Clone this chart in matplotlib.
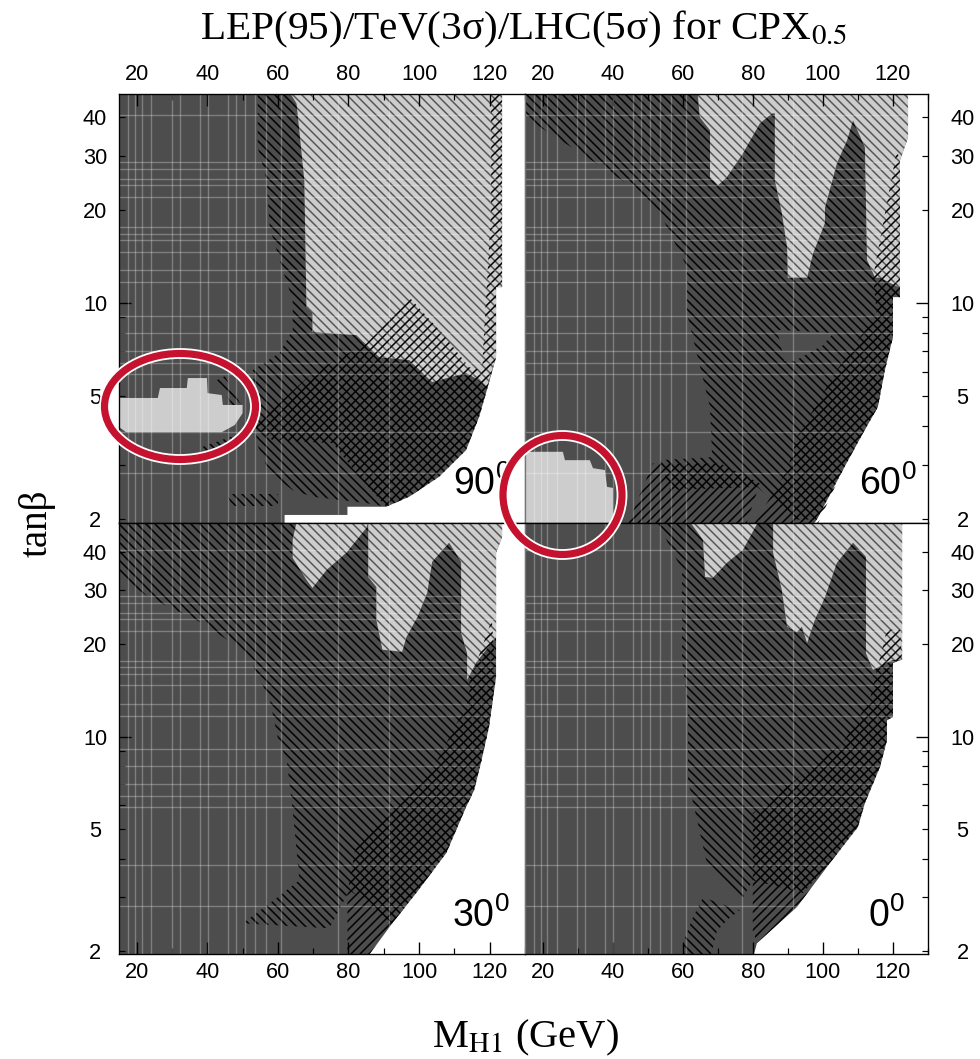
import matplotlib
matplotlib.use("Agg")
import matplotlib.pyplot as plt
from matplotlib.patches import Ellipse

W, H = 980, 1059
DPI = 108

# M_H1 (GeV) and tan(beta) outlines
fill90_x = [15, 123.5, 123.5, 121.8, 121.8, 119.2, 117, 113.3, 105.7, 97.2, 90.7, 79.7, 79.7, 61.9, 61.9, 15]
fill90_y = [50, 50, 11.27, 11.27, 6.69, 5.23, 4.28, 3.34, 2.74, 2.36, 2.19, 2.19, 2.06, 2.06, 1.9, 1.9]
light90_x = [62.5, 65.3, 67.5, 68.1, 69.8, 69.8, 82.2, 88.7, 97.2, 103.7, 113.3, 117, 119.2, 121.8, 121.8, 123.5, 123.5]
light90_y = [50, 44.3, 25, 9.7, 9.28, 8.06, 7.88, 6.69, 6.54, 5.55, 5.94, 5.63, 5.35, 6.69, 11.27, 11.27, 50]
back90_x = [54.3, 54.3, 56.8, 57.7, 60.5, 64.2, 64.2, 60.5, 52.9, 54, 57.7, 64.2, 69.8, 85.1, 90.7, 97.2, 105.7, 113.3, 117, 119.2, 121.8, 121.8, 123.5, 123.5]
back90_y = [50, 32, 25, 17.6, 13.8, 10.2, 8.2, 6.9, 6.07, 3.52, 2.81, 2.48, 2.36, 2.25, 2.19, 2.36, 2.74, 3.34, 4.28, 5.23, 6.69, 11.27, 11.27, 50]
fwd90_x = [97.2, 85.1, 69.8, 52.9, 58.5, 75.5, 83.1, 90.7, 97.2, 105.7, 113.3, 117, 119.2, 121.8, 121.8, 123.5, 123.5, 120.4, 120.4, 117.8, 114.2, 106.5]
fwd90_y = [10.46, 7.42, 5.94, 3.97, 3.6, 3.52, 2.74, 2.19, 2.36, 2.74, 3.34, 4.28, 5.23, 6.69, 11.27, 11.27, 50, 50, 20, 6.07, 6.2, 8]
spot90_x = [15, 26, 26.6, 34.2, 34.5, 39.9, 40.1, 44.1, 44.4, 50, 50, 47.8, 44.1, 17, 15]
spot90_y = [4.93, 4.93, 5.31, 5.31, 5.72, 5.72, 5.11, 5.04, 4.68, 4.68, 4.4, 4.03, 3.82, 3.82, 3.97]
bit90a_x = [42.7, 45, 49.5, 47.5]
bit90a_y = [5.63, 5.8, 4.7, 4.6]
bit90b_x = [37.9, 47, 48, 38]
bit90b_y = [3.4, 3.7, 3.4, 3.2]
bit90c_x = [45.5, 60, 60, 47]
bit90c_y = [2.4, 2.4, 2.2, 2.2]

fill60_x = [15, 124.3, 124.3, 122, 122, 120, 120, 117.7, 115.7, 111.5, 105.7, 98.3, 97, 15]
fill60_y = [50, 50, 34.5, 29, 10.46, 10.46, 7.76, 6.07, 4.61, 3.8, 2.88, 1.99, 1.9, 1.9]
light60_x = [64.1, 64.9, 67.8, 67.8, 70.1, 72.6, 77.2, 82, 85.5, 86.3, 86.3, 88.3, 89.8, 90, 95.5, 97.2, 100.6, 100.6, 104, 106.9, 108.6, 112, 112.6, 114.9, 116.3, 122, 122, 124.3, 124.3]
light60_y = [50, 40, 36.3, 25.6, 24.1, 25.6, 30.6, 38.2, 41.2, 41.2, 25, 19.6, 15.2, 12.1, 12.1, 14.5, 18.2, 20.4, 28.4, 33.7, 39.1, 32, 13.8, 12.1, 12.1, 11.2, 29, 34.5, 50]
back60_x = [15, 15, 32.7, 45.8, 53.5, 61.2, 61.2, 67.8, 68.4, 53.5, 56.4, 81.2, 92.6, 98.3, 105.7, 111.5, 115.7, 117.7, 120, 120, 122, 122, 124.3, 124.3]
back60_y = [50, 40, 29.7, 23.7, 19.6, 13.1, 9.28, 4.61, 3.17, 3.1, 2.48, 2.54, 1.99, 1.99, 2.88, 3.8, 4.61, 6.07, 7.76, 10.46, 10.46, 29, 34.5, 50]
gap60_x = [86.9, 103, 100, 92, 89]
gap60_y = [8.2, 8.0, 7.3, 6.5, 6.5]
fwd60_x = [121.1, 114.3, 115.4, 104, 92.6, 89.8, 80, 98.3, 105.7, 111.5, 115.7, 117.7, 120, 120, 122, 122]
fwd60_y = [31.3, 12.1, 9.28, 6.07, 3.68, 2.88, 1.9, 1.9, 2.88, 3.8, 4.61, 6.07, 7.76, 10.46, 10.46, 29]
band60_x = [44.1, 51.5, 70.6, 82, 78]
band60_y = [1.9, 3.03, 3.03, 2.61, 1.9]
spot60_x = [15, 25.8, 26.4, 33.5, 34.4, 37.8, 38.4, 40.1, 40.1, 15]
spot60_y = [3.3, 3.3, 3.1, 3.1, 2.92, 2.88, 2.54, 2.52, 1.9, 1.9]

fill30_x = [15, 123.5, 123.5, 121.8, 121.8, 119.8, 117.5, 115.6, 113.3, 107.7, 99.2, 92.4, 85.1, 15]
fill30_y = [50, 50, 44.7, 39.7, 15.65, 10.75, 8.21, 6.7, 5.9, 4.18, 3.1, 2.47, 1.9, 1.9]
light30_x = [65.3, 64.2, 64.2, 68.1, 69.8, 73.8, 79.4, 85.1, 85.6, 85.6, 87.9, 87.9, 89.6, 95.2, 96.4, 99.5, 102.3, 103.7, 108.5, 111.9, 111.9, 113.6, 113.6, 116.1, 121.8, 121.8, 123.5, 123.5]
light30_y = [50, 43.7, 38.2, 32.4, 30.5, 34.9, 39.7, 47.9, 50, 33.1, 30.7, 24, 19.2, 18.9, 21.1, 24.5, 29.4, 37.1, 42.8, 37.1, 21.8, 18.7, 15.3, 17.4, 21.1, 39.7, 44.7, 50]
back30_x = [15, 15, 23.8, 38.7, 51.2, 57.7, 59.9, 62.5, 64.2, 66.1, 57.7, 50, 74.6, 78.3, 80.3, 92.4, 99.2, 107.7, 113.3, 115.6, 117.5, 119.8, 121.8, 121.8, 123.5, 123.5]
back30_y = [50, 33.1, 28.3, 23.4, 18.7, 13.2, 10, 8.4, 5.77, 3.41, 2.87, 2.47, 2.38, 2.87, 3.17, 2.47, 3.1, 4.18, 5.9, 6.7, 8.21, 10.75, 15.65, 39.7, 44.7, 50]
fwd30_x = [79.7, 79.7, 82.2, 103.7, 114.2, 114.2, 120.6, 121.8, 119.8, 117.5, 115.6, 113.3, 107.7, 99.2, 92.4, 85.1]
fwd30_y = [1.9, 3.1, 4.5, 7.79, 13.2, 15, 24, 15.65, 10.75, 8.21, 6.7, 5.9, 4.18, 3.1, 2.47, 1.9]

fill0_x = [15, 122.6, 122.6, 120, 120, 118.3, 118.3, 116.3, 112, 110, 102, 92.6, 81.2, 80, 15]
fill0_y = [50, 50, 17.8, 17.4, 11.6, 11.3, 9.75, 7.97, 6.08, 5.08, 3.88, 2.79, 2.13, 1.9, 1.9]
light0_x = [62.1, 65.8, 66.4, 68.6, 72.6, 77.2, 81.5, 85.8, 85.8, 88.3, 89.8, 92.6, 94, 95.5, 97.7, 100.6, 104, 108.6, 112.3, 112.3, 114.3, 120, 122.6, 122.6]
light0_y = [50, 43.7, 33.1, 32.9, 36.8, 40.6, 50, 50, 39.7, 30, 22.8, 21.9, 22.8, 20.2, 24, 28.5, 36.8, 42.8, 38.5, 18.7, 16.5, 17.8, 17.8, 50]
back0_x = [52.7, 59.8, 59.8, 61.5, 61.5, 64.1, 66.9, 77.2, 80, 94.3, 102, 110, 112, 116.3, 118.3, 118.3, 120, 120, 122.6, 122.6]
back0_y = [50, 34.9, 17.8, 12.5, 7.23, 5.36, 3.88, 3.0, 3.41, 3.1, 3.88, 5.08, 6.08, 7.97, 9.75, 11.3, 11.6, 17.4, 17.8, 50]
bit0_x = [60.1, 60.1, 62.9, 65.8, 76.3, 73.5, 69.8, 67.8]
bit0_y = [1.9, 2.13, 2.58, 3.0, 2.72, 2.58, 2.34, 1.9]
fwd0_x = [80, 80, 105.7, 113.4, 115.4, 118.3, 122, 122.6, 120, 120, 118.3, 118.3, 116.3, 112, 110, 102, 92.6, 81.2, 80]
fwd0_y = [2.34, 5.64, 9.54, 13.2, 16.5, 22.3, 22.3, 17.8, 17.4, 11.6, 11.3, 9.75, 7.97, 6.08, 5.08, 3.88, 2.79, 2.13, 2.34]

# faint lines of the scan grid
grid_x = [17.6, 19.5, 21.4, 24.2, 29.9, 32.2, 37.9, 40.2, 45.8, 48.2, 50.6, 53.4, 56.7, 61, 76.9, 91.5]
grid_y = [40.6, 28.7, 27.3, 25.3, 24.1, 22.1, 17.7, 16.8, 16, 14.7, 12.8, 11.7, 9.1, 8, 7, 6.4, 5.9, 3.83, 2.82]

x_major = [20, 40, 60, 80, 100, 120]
x_minor = [30, 50, 70, 90, 110, 130]
y_minor = [2, 3, 4, 5, 6, 7, 8, 9, 20, 30, 40]
y_minor_labels = ["2", "", "", "5", "", "", "", "", "20", "30", "40"]

DARK = "#4d4d4d"
LIGHT = "#cdcdcd"
HATCH_DARK = "#000000"
HATCH_LIGHT = "#555555"
BACK = "\\" * 4
FWD = "/" * 4

plt.rcParams["hatch.linewidth"] = 1.0
plt.rcParams["font.family"] = "Liberation Sans"

panels = [
    dict(box=(119, 525, 94, 523), ylim=(1.94, 47.6), angle="90", pos=(126, 2.6),
         fill=(fill90_x, fill90_y), light=(light90_x, light90_y), back=[(back90_x, back90_y), (bit90a_x, bit90a_y), (bit90b_x, bit90b_y), (bit90c_x, bit90c_y)],
         gap=None, fwd=[(fwd90_x, fwd90_y)], spot=(spot90_x, spot90_y)),
    dict(box=(525, 928, 94, 523), ylim=(1.94, 47.6), angle="60", pos=(126.8, 2.6),
         fill=(fill60_x, fill60_y), light=(light60_x, light60_y), back=[(back60_x, back60_y)],
         gap=(gap60_x, gap60_y), fwd=[(fwd60_x, fwd60_y), (band60_x, band60_y)], spot=(spot60_x, spot60_y)),
    dict(box=(119, 525, 523, 953.5), ylim=(1.97, 49.6), angle="30", pos=(125.5, 2.6),
         fill=(fill30_x, fill30_y), light=(light30_x, light30_y), back=[(back30_x, back30_y)],
         gap=None, fwd=[(fwd30_x, fwd30_y)], spot=None),
    dict(box=(525, 928, 523, 953.5), ylim=(1.97, 49.6), angle="0", pos=(123.4, 2.6),
         fill=(fill0_x, fill0_y), light=(light0_x, light0_y), back=[(back0_x, back0_y), (bit0_x, bit0_y)],
         gap=None, fwd=[(fwd0_x, fwd0_y)], spot=None),
]

fig = plt.figure(figsize=(W / DPI, H / DPI), dpi=DPI)

for i, p in enumerate(panels):
    x0, x1, y0, y1 = p["box"]
    ax = fig.add_axes([x0 / W, 1 - y1 / H, (x1 - x0) / W, (y1 - y0) / H])
    ax.set_yscale("log")

    outer = ax.fill(*p["fill"], facecolor=DARK, linewidth=0, zorder=1)[0]
    for bx, by in p["back"]:
        ax.fill(bx, by, facecolor="none", edgecolor=HATCH_DARK, hatch=BACK, linewidth=0, zorder=1.2)
    if p["gap"] is not None:
        ax.fill(*p["gap"], facecolor=DARK, linewidth=0, zorder=1.3)
    ax.fill(*p["light"], facecolor=LIGHT, edgecolor=HATCH_LIGHT, hatch=BACK, linewidth=0, zorder=1.4)
    for fx, fy in p["fwd"]:
        ax.fill(fx, fy, facecolor="none", edgecolor=HATCH_DARK, hatch=FWD, linewidth=0, zorder=1.5)
    if p["spot"] is not None:
        ax.fill(*p["spot"], facecolor=LIGHT, linewidth=0, zorder=1.6)

    v = ax.vlines(grid_x, 1.9, 50, color="white", alpha=0.28, linewidth=0.9, zorder=1.7)
    h = ax.hlines(grid_y, 15, 130, color="white", alpha=0.28, linewidth=0.9, zorder=1.7)
    v.set_clip_path(outer)
    h.set_clip_path(outer)

    ax.set_ylim(*p["ylim"])
    ax.set_xlim(15, 130)

    # ticks
    ax.set_xticks(x_major)
    ax.set_xticks(x_minor, minor=True)
    ax.set_yticks([10], labels=["10"])
    ax.set_yticks(y_minor, labels=y_minor_labels, minor=True)
    is_top = i < 2
    is_left = i % 2 == 0
    ax.tick_params(axis="x", which="both", direction="in", top=is_top, bottom=not is_top,
                   labeltop=is_top, labelbottom=not is_top)
    ax.tick_params(axis="y", which="both", direction="in", left=is_left, right=not is_left,
                   labelleft=is_left, labelright=not is_left)
    ax.tick_params(axis="x", which="major", length=8, width=0.9, labelsize=14.5, pad=6)
    ax.tick_params(axis="x", which="minor", length=4, width=0.8)
    ypad = 16 if is_left else 23
    ax.tick_params(axis="y", which="major", length=8, width=0.9, labelsize=14.5, pad=ypad)
    ax.tick_params(axis="y", which="minor", length=4, width=0.8, labelsize=14.5, pad=ypad)
    for lab in ax.get_yticklabels(which="both"):
        lab.set_ha("center")
    for s in ax.spines.values():
        s.set_linewidth(0.9)
        s.set_zorder(3)
    ax.spines["left" if not is_left else "right"].set_color("#777777")

    ax.text(p["pos"][0], p["pos"][1], r"$\mathdefault{" + p["angle"] + "^{0}}$", fontsize=25, ha="right", va="center",
            zorder=4)

SERIF = "Liberation Serif"
fig.text(524 / W, 1 - 39 / H, r"LEP(95)/TeV(3σ)/LHC(5σ) for CPX$_{\mathrm{0.5}}$", family=SERIF,
         fontsize=27.5, ha="center", va="baseline", math_fontfamily="stix")
fig.text(525 / W, 1 - 1047 / H, r"M$_{\mathrm{H1}}$ (GeV)", family=SERIF,
         fontsize=27, ha="center", va="baseline", math_fontfamily="stix")
fig.text(37 / W, 1 - 523 / H, "tanβ", family=SERIF, fontsize=26, rotation=90,
         ha="center", va="center")

# red rings drawn over the plot, in figure fractions
rings = [(180, 406.5, 158, 113), (562.5, 495, 126, 126)]
for cx, cy, rw, rh in rings:
    for col, lw in (("white", 7.2), ("#c4122f", 4.8)):
        fig.add_artist(Ellipse((cx / W, 1 - cy / H), (rw - 7) / W, (rh - 7) / H, transform=fig.transFigure,
                               facecolor="none", edgecolor=col, linewidth=lw, zorder=10))

fig.savefig("out.png", dpi=DPI)
